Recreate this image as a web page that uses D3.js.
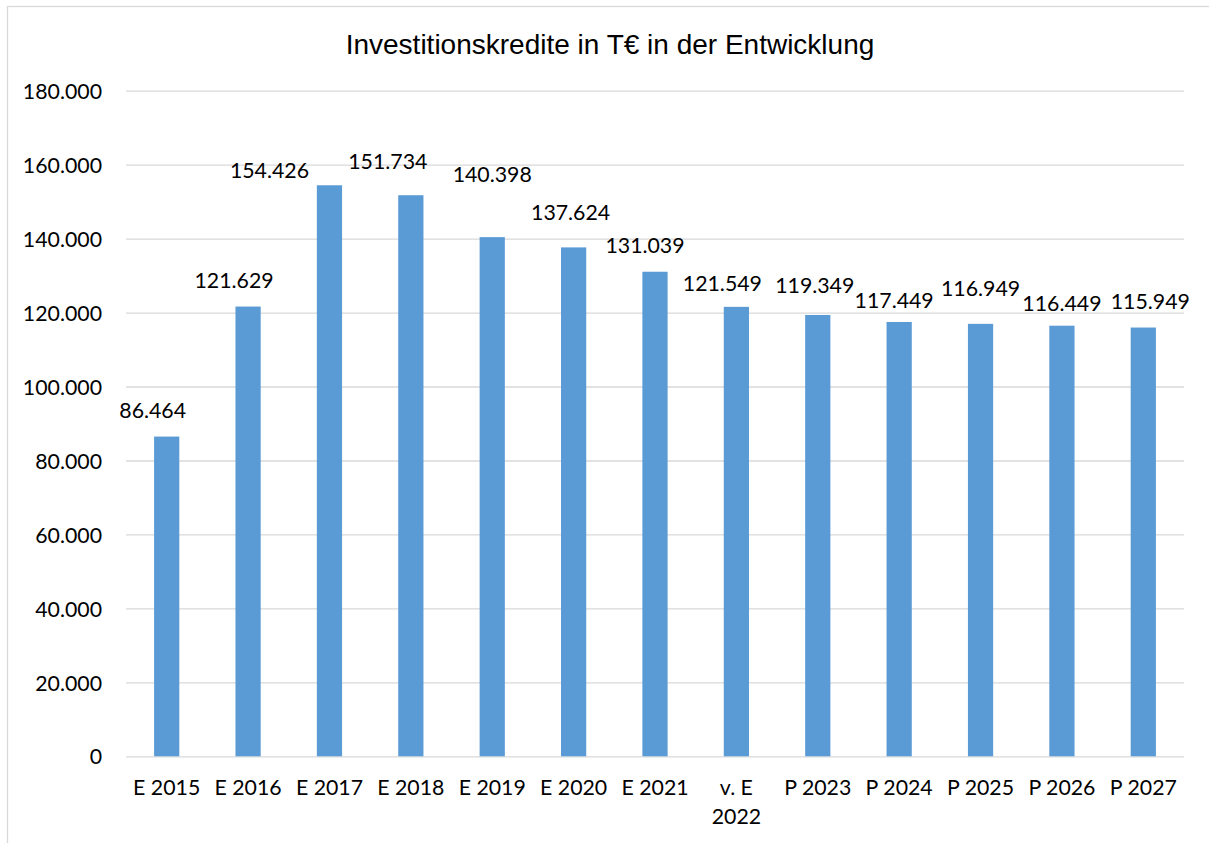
<!DOCTYPE html>
<html>
<head>
<meta charset="utf-8">
<script src="https://cdn.jsdelivr.net/npm/d3@7"></script>
<style>
  body { margin: 0; background: #fff; }
  svg { display: block; }
  .tick text, .lbl { font-family: Lato, "Open Sans", sans-serif; font-size: 21.3px; fill: #000; }
</style>
</head>
<body>
<svg width="1209" height="843"></svg>
<script>
var categories = ["E 2015", "E 2016", "E 2017", "E 2018", "E 2019", "E 2020", "E 2021",
                  "v. E 2022", "P 2023", "P 2024", "P 2025", "P 2026", "P 2027"];
var values = [86464, 121629, 154426, 151734, 140398, 137624, 131039,
              121549, 119349, 117449, 116949, 116449, 115949];
var yTicks = [0, 20000, 40000, 60000, 80000, 100000, 120000, 140000, 160000, 180000];

// hand placed data labels in the original (px nudges from the default spot)
var labelNudge = [[-14, 0], [-14, 0], [-60, 12], [-23, -7], [0, -36], [-3, -8], [-10, 0],
                  [-14, 3], [-3, -3], [-5, 5], [0, -9], [0, 4], [7, 0]];

var svg = d3.select("svg"),
    width = +svg.attr("width"),
    height = +svg.attr("height");

var fmt = function(v) { return d3.format(",")(v).replace(/,/g, "."); };

// chart frame
svg.append("rect")
    .attr("x", 7.5).attr("y", 6.5)
    .attr("width", width + 10).attr("height", height + 10)
    .attr("fill", "none")
    .attr("stroke", "#d9d9d9")
    .attr("stroke-width", 1.3);

svg.append("text")
    .attr("x", 610).attr("y", 54)
    .attr("text-anchor", "middle")
    .style("font-family", "'Liberation Sans', Arial, sans-serif")
    .style("font-size", "28px")
    .text("Investitionskredite in T€ in der Entwicklung");

var x = d3.scaleBand().domain(categories).range([126, 1184]).padding(0);
var y = d3.scaleLinear().domain([0, 180000]).range([756.3, 90.7]);

var barW = x.bandwidth() * 0.31;

// gridlines + y labels
var yAxis = svg.append("g")
    .attr("transform", "translate(126,0)")
    .call(d3.axisLeft(y).tickValues(yTicks).tickFormat(fmt).tickSize(-(1184 - 126)).tickPadding(24));
yAxis.select(".domain").remove();
yAxis.selectAll(".tick line").attr("stroke", "#d9d9d9").attr("stroke-width", 1.3);
yAxis.selectAll(".tick text").attr("dy", "0.36em");

// bars
svg.append("g")
    .selectAll("rect")
    .data(values)
    .enter()
    .append("rect")
    .attr("x", function(d, i) { return x(categories[i]) + x.bandwidth() / 2 - barW / 2; })
    .attr("y", function(d) { return y(d); })
    .attr("width", barW)
    .attr("height", function(d) { return y(0) - y(d); })
    .attr("fill", "#5b9bd5");

// data labels
svg.append("g")
    .selectAll("text")
    .data(values)
    .enter()
    .append("text")
    .attr("class", "lbl")
    .attr("text-anchor", "middle")
    .attr("x", function(d, i) { return x(categories[i]) + x.bandwidth() / 2 + labelNudge[i][0]; })
    .attr("y", function(d, i) { return y(d) - 19 + labelNudge[i][1]; })
    .text(fmt);

// x labels
var xAxis = svg.append("g")
    .attr("transform", "translate(0," + y(0) + ")")
    .call(d3.axisBottom(x).tickSize(0).tickPadding(39));
xAxis.select(".domain").remove();
xAxis.selectAll(".tick text").attr("dy", 0).call(wrap, x.bandwidth() - 4);

function wrap(texts, w) {
    texts.each(function() {
        var text = d3.select(this),
            words = text.text().split(/\s+/),
            line = [],
            lineNo = 0,
            ty = text.attr("y"),
            tspan = text.text(null).append("tspan").attr("x", 0).attr("y", ty);
        words.forEach(function(word) {
            line.push(word);
            tspan.text(line.join(" "));
            if (tspan.node().getComputedTextLength() > w && line.length > 1) {
                line.pop();
                tspan.text(line.join(" "));
                line = [word];
                lineNo++;
                tspan = text.append("tspan").attr("x", 0).attr("y", ty)
                    .attr("dy", (lineNo * 28.3) + "px").text(word);
            }
        });
    });
}
</script>
</body>
</html>
